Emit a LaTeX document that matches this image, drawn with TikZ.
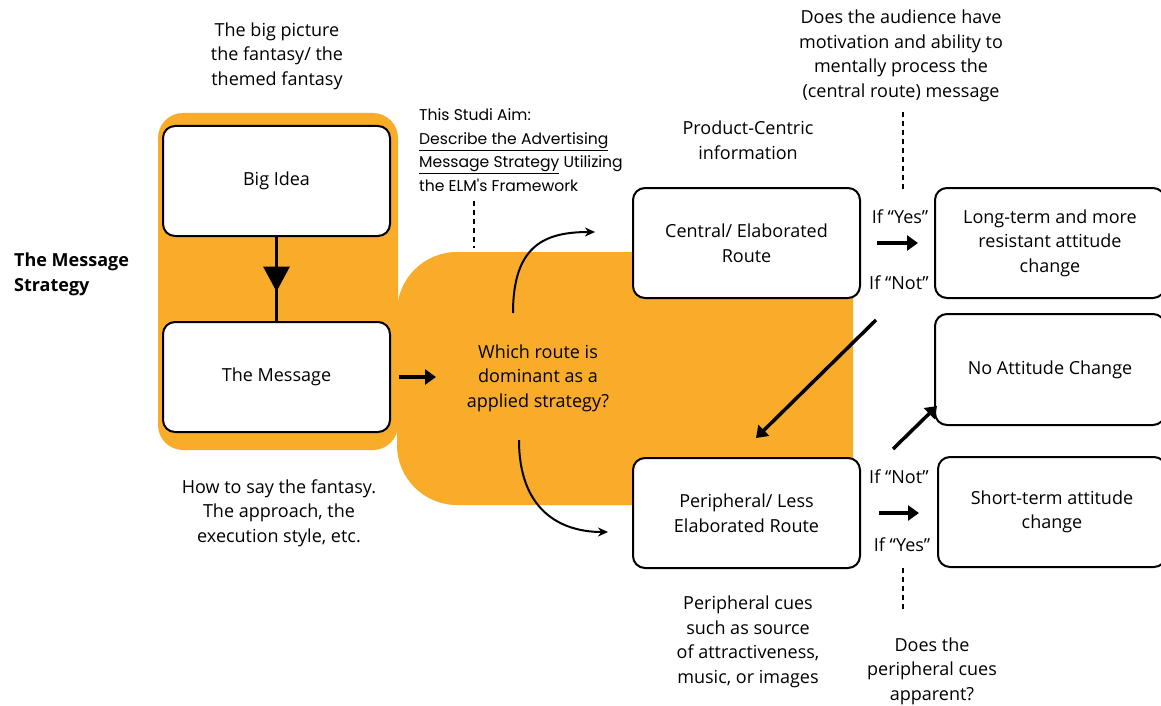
\documentclass[tikz,border=0pt]{standalone}
\usepackage{fontspec}
\setmainfont{Open Sans}
\newfontfamily\aimfont{Poppins}
\usetikzlibrary{arrows.meta,calc}
\definecolor{mango}{RGB}{249,171,42}
\tikzset{
	stepbox/.style={draw, line width=2pt, rounded corners=12pt, fill=white, minimum width=227pt, minimum height=110pt, align=center, inner sep=0pt},
	note/.style={align=center, inner sep=0pt},
	thickarrow/.style={line width=3.5pt, -{Triangle[length=11pt,width=15pt]}},
	curvearrow/.style={line width=2pt, -{Stealth[length=10pt,width=9pt]}},
	dotline/.style={line width=2.5pt, dash pattern=on 5pt off 4pt},
}

\begin{document}
\begin{tikzpicture}[x=1pt, y=-1pt, font=\fontsize{18}{24.5}\selectfont]
		%%%%% START %%%%%
		\useasboundingbox (0,0) rectangle (1161,706);
		
		% orange backgrounds
		\fill[mango, rounded corners=25pt] (158,113) rectangle (398,450);
		\fill[mango, rounded corners=60pt] (397,252) rectangle (700,505);
		\fill[mango, rounded corners=22pt] (520,252) rectangle (853,505);
		
		% boxes
		\node[stepbox] (bigidea) at (276.5,181) {Big Idea};
		\node[stepbox] (message) at (276.5,377) {The Message};
		\node[stepbox] (central) at (746.5,243) {Central/ Elaborated\\Route};
		\node[stepbox] (periph) at (746.5,513) {Peripheral/ Less\\Elaborated Route};
		\node[stepbox, minimum width=230pt] (longterm) at (1050,243) {Long-term and more\\resistant attitude\\change};
		\node[stepbox, minimum width=230pt, minimum height=111pt] (noatt) at (1050,369.5) {No Attitude Change};
		\node[stepbox, minimum width=228pt] (shortterm) at (1052,512) {Short-term attitude\\change};
		
		% texts
		\node[note] (bigpic) at (277,56) {The big picture\\the fantasy/ the\\themed fantasy};
		\node[note] (howto) at (279,513) {How to say the fantasy.\\The approach, the\\execution style, etc.};
		\node[note, anchor=west, align=left, font=\fontsize{18}{24.5}\selectfont\bfseries] (strategy) at (14,274.5) {The Message\\Strategy};
		\node[note, anchor=west, align=left, font=\fontsize{15.6}{23.5}\aimfont] (aim) at (419,150) {This Studi Aim:\\\underline{Describe the Advertising}\\\underline{Message Strategy} Utilizing\\the ELM's Framework};
		\node[note] (which) at (538,378) {Which route is\\dominant as a\\applied strategy?};
		\node[note] (product) at (748,140) {Product-Centric\\information};
		\node[note] (question) at (901,56) {Does the audience have\\motivation and ability to\\mentally process the\\(central route) message};
		\node[note] (cues) at (748,642) {Peripheral cues\\such as source\\of attractiveness,\\music, or images};
		\node[note] (apparent) at (932,671) {Does the\\peripheral cues\\apparent?};
		
		\node[note] (ifyes1) at (900,217) {If “Yes”};
		\node[note] (ifnot1) at (899,283) {If “Not”};
		\node[note] (ifnot2) at (899,477) {If “Not”};
		\node[note] (ifyes2) at (902,545) {If “Yes”};
		
		% free ends
		\coordinate (aimdot) at (474,248);
		\coordinate (qdot) at (903,190);
		\coordinate (cdot) at (903,612);
		\coordinate (upstart) at (513,313);
		\coordinate (upend) at (595,232);
		\coordinate (downstart) at (519,440);
		\coordinate (downend) at (608,532);
		\coordinate (diagstart) at (876,320);
		\coordinate (diagend) at (756,438);
		\coordinate (nostart) at (893,449);
		\coordinate (noend) at (937,406);
		
		% connectors
		\draw[line width=3pt] (bigidea.south) -- (message.north);
		\draw[line width=3pt, -{Triangle[length=25pt,width=26pt]}] (bigidea.south) -- ($(bigidea.south)!0.65!(message.north)$);
		\draw[thickarrow, shorten <=8pt] (message.east) -- ++(45,0);
		\draw[curvearrow] (upstart) .. controls (513,245) and (545,232) .. (upend);
		\draw[curvearrow] (downstart) .. controls (519,510) and (560,532) .. (downend);
		\draw[thickarrow, shorten <=16pt, shorten >=16pt] (central) -- (longterm);
		\draw[thickarrow, shorten <=18pt, shorten >=18pt] (periph.east) -- (periph.east -| shortterm.west);
		\draw[thickarrow] (diagstart) -- (diagend);
		\draw[thickarrow] (nostart) -- (noend);
		
		\draw[dotline] (aim.south -| aimdot) ++(0,10) -- (aimdot);
		\draw[dotline] (question.south -| qdot) ++(0,10) -- (qdot);
		\draw[dotline] (shortterm.south -| cdot) ++(0,0) -- (cdot);
		
		%%%%% END %%%%%
	\end{tikzpicture}
\end{document}
